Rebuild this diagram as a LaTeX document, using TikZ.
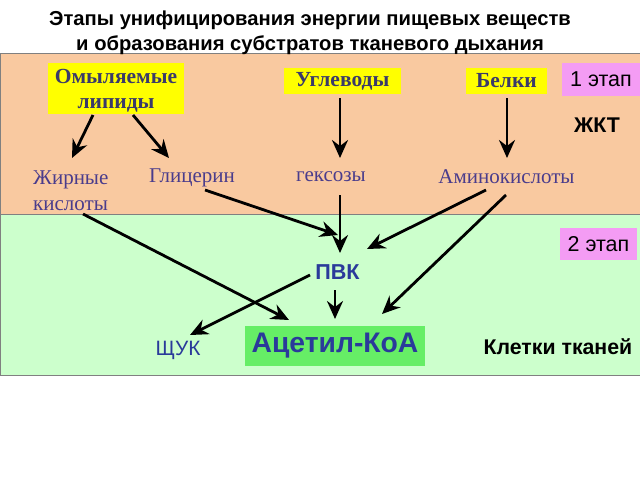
\documentclass[tikz,border=0pt]{standalone}
\usepackage{fontspec}
\setmainfont{Liberation Serif}
\setsansfont{Liberation Sans}
\usetikzlibrary{arrows.meta}
\definecolor{peach}{HTML}{F9C9A0}
\definecolor{mint}{HTML}{CCFFCC}
\definecolor{yel}{HTML}{FFFF00}
\definecolor{pinkv}{HTML}{F49CF4}
\definecolor{acg}{HTML}{66EE66}
\definecolor{navy}{HTML}{3A3A6A}
\definecolor{purp}{HTML}{4A3C8C}
\definecolor{bl}{HTML}{2A3A9A}
\tikzset{
  sub/.style={fill=yel, font=\fontsize{21.5}{25}\selectfont\rmfamily\bfseries, text=navy, inner sep=0pt, align=center},
  stage/.style={fill=pinkv, font=\fontsize{21.5}{24}\selectfont\sffamily, text=black, inner sep=0pt},
  prod/.style={font=\fontsize{21}{26}\selectfont\rmfamily, text=purp, align=left, inner sep=0pt},
  arr/.style={-{Stealth[length=18pt,width=16pt,inset=6pt]}, line width=2.8pt},
  lbl/.style={font=\fontsize{21.3}{24}\selectfont\sffamily\bfseries, text=black, inner sep=0pt},
}
\begin{document}
\begin{tikzpicture}[x=1pt,y=-1pt]
\useasboundingbox (0,0) rectangle (640,480);
\fill[white] (0,0) rectangle (640,480);
\draw[fill=peach, draw=gray, line width=1pt] (0,53) rectangle (640,214);
\draw[fill=mint, draw=gray, line width=1pt] (0,214) rectangle (640,375);
\node[font=\fontsize{20.2}{25}\selectfont\sffamily\bfseries, align=center] (title) at (310,33) {Этапы унифицирования энергии пищевых веществ\\и образования субстратов тканевого дыхания};
\node[sub, minimum width=136pt, minimum height=51pt] (lip) at (116,88.5) {};
\node[sub] (liptext) at (116,91) {Омыляемые\\липиды};
\node[sub, minimum width=117pt, minimum height=26pt] (ugl) at (342.5,81) {Углеводы};
\node[sub, minimum width=81pt, minimum height=26pt] (bel) at (506.5,81) {Белки};
\node[stage, minimum width=78pt, minimum height=33pt] (st1) at (601,79.5) {1 этап};
\node[lbl] (zhkt) at (597,125) {ЖКТ};
\node[stage, minimum width=77pt, minimum height=32pt] (st2) at (598.5,244) {2 этап};
\node[prod, anchor=west] (fa) at (33,191) {Жирные\\кислоты};
\node[prod] (gl) at (192,178) {Глицерин};
\node[prod] (hex) at (331,177) {гексозы};
\node[prod] (ami) at (506.5,177) {Аминокислоты};
\node[font=\fontsize{21.6}{24}\selectfont\sffamily\bfseries, text=bl, inner sep=0pt] (pvk) at (337.5,272) {ПВК};
\node[font=\fontsize{20.8}{24}\selectfont\sffamily, text=bl, inner sep=0pt] (shuk) at (178,350) {ЩУК};
\node[fill=acg, minimum width=180pt, minimum height=40pt, inner sep=0pt, font=\fontsize{28.3}{30}\selectfont\sffamily\bfseries, text=bl] (acoa) at (335,346) {Ацетил-КоА};
\node[lbl] (cells) at (558,347) {Клетки тканей};
\coordinate (a1) at (93,115); \coordinate (a2) at (72,158);
\coordinate (b1) at (133,115); \coordinate (b2) at (169,158);
\coordinate (c1) at (340,98); \coordinate (c2) at (340,158);
\coordinate (d1) at (507,98); \coordinate (d2) at (507,158);
\draw[arr] (a1) -- (a2);
\draw[arr] (b1) -- (b2);
\draw[arr] (c1) -- (c2);
\draw[arr] (d1) -- (d2);
\coordinate (g1) at (205,190); \coordinate (g2) at (338,235);
\coordinate (h1) at (340,195); \coordinate (h2) at (340,253);
\coordinate (m1) at (486,190); \coordinate (m2) at (367,249);
\coordinate (n1) at (506,195); \coordinate (n2) at (382,314);
\coordinate (f1) at (83,214); \coordinate (f2) at (289,320);
\coordinate (p1) at (335,290); \coordinate (p2) at (335,319);
\coordinate (q1) at (310,275); \coordinate (q2) at (190,335);
\draw[arr] (g1) -- (g2);
\draw[arr] (h1) -- (h2);
\draw[arr] (m1) -- (m2);
\draw[arr] (n1) -- (n2);
\draw[arr] (f1) -- (f2);
\draw[arr] (p1) -- (p2);
\draw[arr] (q1) -- (q2);
\end{tikzpicture}
\end{document}
